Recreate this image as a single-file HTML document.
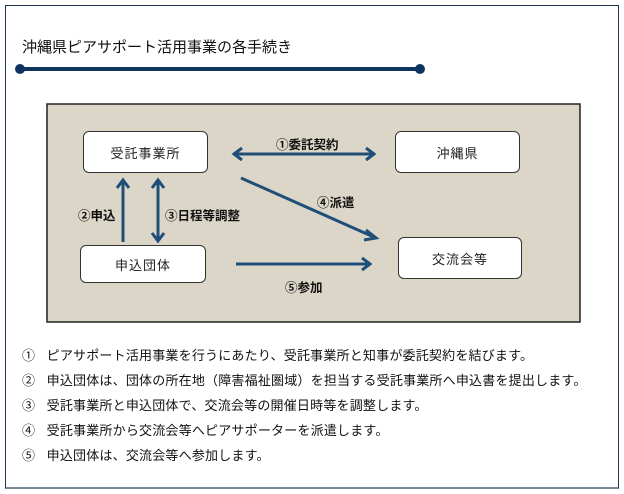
<!DOCTYPE html>
<html><head><meta charset="utf-8"><style>
body{margin:0;width:624px;height:494px;background:#fff;overflow:hidden;font-family:"Liberation Sans","Noto Sans CJK JP",sans-serif;}
.frame{position:absolute;left:5px;top:5px;width:614px;height:484px;border:1px solid #1d3550;border-bottom:2px solid #7a8a99;box-sizing:border-box;}
.t{position:absolute;white-space:nowrap;color:#111;}
.box{position:absolute;background:#fff;border:1px solid #333;border-radius:6px;box-sizing:border-box;display:flex;align-items:center;justify-content:center;font-size:13px;color:#222;letter-spacing:1px;}
.lbl{position:absolute;font-size:12.5px;font-weight:bold;color:#111;white-space:nowrap;}
</style></head><body>
<div class="frame"></div>
<div class="t" style="left:22px;top:36px;font-size:15px;">沖縄県ピアサポート活用事業の各手続き</div>
<svg style="position:absolute;left:0;top:0" width="624" height="494">
<line x1="20" y1="69" x2="420" y2="69" stroke="#0f3460" stroke-width="4"/>
<circle cx="20" cy="69" r="5" fill="#0f3460"/><circle cx="420" cy="69" r="5" fill="#0f3460"/>
<rect x="47" y="104" width="533" height="218" fill="#dcd6c8" stroke="#222" stroke-width="1.5"/>
<g stroke="#1f4e79" stroke-width="3" fill="none">
<line x1="234" y1="154" x2="374" y2="154"/>
<polyline points="242,148 234,154 242,160"/><polyline points="366,148 374,154 366,160"/>
<line x1="123" y1="242" x2="123" y2="180"/><polyline points="117,188 123,180 129,188"/>
<line x1="158" y1="180" x2="158" y2="241"/><polyline points="152,188 158,180 164,188"/><polyline points="152,233 158,241 164,233"/>
<line x1="241" y1="178" x2="376" y2="238"/><polyline points="366,230 376,238 364,240"/>
<line x1="236" y1="264" x2="370" y2="264"/><polyline points="362,258 370,264 362,270"/>
</g>
</svg>
<div class="box" style="left:83px;top:131px;width:125px;height:42px;">受託事業所</div>
<div class="box" style="left:395px;top:131px;width:125px;height:42px;">沖縄県</div>
<div class="box" style="left:80px;top:245px;width:126px;height:38px;">申込団体</div>
<div class="box" style="left:398px;top:237px;width:124px;height:42px;">交流会等</div>
<div class="lbl" style="left:276px;top:134px;">①委託契約</div>
<div class="lbl" style="left:78px;top:205px;">②申込</div>
<div class="lbl" style="left:165px;top:205px;">③日程等調整</div>
<div class="lbl" style="left:317px;top:192px;">④派遣</div>
<div class="lbl" style="left:285px;top:277px;">⑤参加</div>
<div class="t" style="left:22px;top:343px;font-size:13px;line-height:25px;letter-spacing:0.2px;">
<div>①&nbsp;&nbsp;&nbsp;ピアサポート活用事業を行うにあたり、受託事業所と知事が委託契約を結びます。</div>
<div>②&nbsp;&nbsp;&nbsp;申込団体は、団体の所在地（障害福祉圏域）を担当する受託事業所へ申込書を提出します。</div>
<div>③&nbsp;&nbsp;&nbsp;受託事業所と申込団体で、交流会等の開催日時等を調整します。</div>
<div>④&nbsp;&nbsp;&nbsp;受託事業所から交流会等へピアサポーターを派遣します。</div>
<div>⑤&nbsp;&nbsp;&nbsp;申込団体は、交流会等へ参加します。</div>
</div>
</body></html>
